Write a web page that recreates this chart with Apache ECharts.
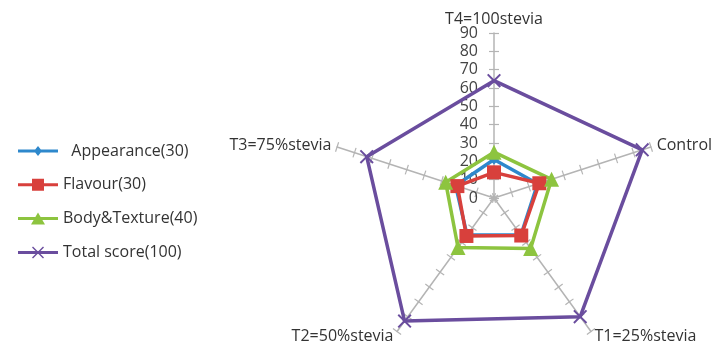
<!DOCTYPE html>
<html>
<head>
<meta charset="utf-8">
<script src="https://cdn.jsdelivr.net/npm/echarts@6/dist/echarts.min.js"></script>
<style>
  html, body { margin: 0; padding: 0; background: #ffffff; }
  #chart { width: 714px; height: 351px; }
</style>
</head>
<body>
<div id="chart"></div>
<script>
// Treatments, listed counter-clockwise from the top spoke
const treatments = ['T4=100stevia', 'T3=75%stevia', 'T2=50%stevia', 'T1=25%stevia', 'Control'];

// Sensory scores per treatment (same order as treatments)
const appearance  = [21, 22, 25, 25, 25];
const flavour     = [14, 21, 25.6, 25.3, 26];
const bodyTexture = [25, 27.7, 33.4, 34, 33];
const totalScore  = [64, 73, 83, 80, 85];

const seriesNames = ['Appearance(30)', 'Flavour(30)', 'Body&Texture(40)', 'Total score(100)'];

const scaleMax = 90;
const scaleStep = 10;

const FONT = 'Open Sans';
const CENTER = [494, 198];
const RADIUS = 165;

const colors = {
  appearance: '#2e88cc',
  flavour: '#d8403c',
  body: '#8dc43f',
  total: '#6a4d9e'
};

const xMark = 'path://M1,0 L5,4 L9,0 L10,1 L6,5 L10,9 L9,10 L5,6 L1,10 L0,9 L4,5 L0,1 Z';

// legend icons: a short line with the series marker in the middle
const lineBar = 'M0,4.5 H40 V7.5 H0 Z ';
const legendIcons = [
  'path://' + lineBar + 'M20,1 L24,6 L20,11 L16,6 Z',
  'path://' + lineBar + 'M14,0 H26 V12 H14 Z',
  'path://' + lineBar + 'M20,0 L27,12 L13,12 Z',
  'path://' + lineBar + 'M15,0 L20,5 L25,0 L26,1 L21,6 L26,11 L25,12 L20,7 L15,12 L14,11 L19,6 L14,1 Z'
];

const indicators = treatments.map(function (name) {
  return { name: name, min: 0, max: scaleMax };
});

const radarBase = {
  indicator: indicators,
  center: CENTER,
  radius: RADIUS,
  startAngle: 90,
  splitNumber: scaleMax / scaleStep,
  shape: 'polygon',
  splitLine: { show: false },
  splitArea: { show: false },
  axisLabel: { show: false }
};

const tickStyle = { color: '#b4b4b4', width: 1.2 };

const chart = echarts.init(document.getElementById('chart'), null, { renderer: 'canvas' });

chart.setOption({
  animation: false,
  backgroundColor: '#ffffff',
  textStyle: { fontFamily: FONT },
  legend: {
    orient: 'vertical',
    left: 13,
    top: 138,
    itemWidth: 40,
    itemHeight: 12,
    itemGap: 17.8,
    formatter: function (name) {
      return name === seriesNames[0] ? '  ' + name : name;
    },
    textStyle: { fontFamily: FONT, fontSize: 16, lineHeight: 14, color: '#333333' },
    data: seriesNames.map(function (n, i) { return { name: n, icon: legendIcons[i] }; })
  },
  radar: [
    Object.assign({}, radarBase, {
      axisName: { color: '#333333', fontSize: 16, fontFamily: FONT },
      nameGap: 6,
      axisLine: { show: true, lineStyle: { color: '#b4b4b4', width: 1.5 } },
      axisTick: { show: true, length: 5, lineStyle: tickStyle }
    }),
    Object.assign({}, radarBase, {
      axisName: { show: false },
      axisLine: { show: false },
      axisTick: { show: true, length: -5, lineStyle: tickStyle }
    })
  ],
  // value scale printed along the top spoke
  polar: { center: CENTER, radius: RADIUS },
  angleAxis: {
    startAngle: 90,
    min: 0,
    max: 360,
    axisLine: { show: false },
    axisTick: { show: false },
    axisLabel: { show: false },
    splitLine: { show: false }
  },
  radiusAxis: {
    min: 0,
    max: scaleMax,
    interval: scaleStep,
    axisLine: { show: false },
    axisTick: { show: false },
    splitLine: { show: false },
    axisLabel: { show: true, margin: 16, color: '#444444', fontSize: 16, fontFamily: FONT }
  },
  series: [{
    type: 'radar',
    radarIndex: 0,
    data: [
      {
        name: seriesNames[0], value: appearance,
        symbol: 'diamond', symbolSize: 10,
        itemStyle: { color: colors.appearance },
        lineStyle: { color: colors.appearance, width: 3.5 }
      },
      {
        name: seriesNames[1], value: flavour,
        symbol: 'rect', symbolSize: 14,
        itemStyle: { color: colors.flavour },
        lineStyle: { color: colors.flavour, width: 3.5 }
      },
      {
        name: seriesNames[2], value: bodyTexture,
        symbol: 'triangle', symbolSize: 15,
        itemStyle: { color: colors.body },
        lineStyle: { color: colors.body, width: 3.5 }
      },
      {
        name: seriesNames[3], value: totalScore,
        symbol: xMark, symbolSize: 14,
        itemStyle: { color: colors.total },
        lineStyle: { color: colors.total, width: 3.5 }
      }
    ]
  }]
});
</script>
</body>
</html>
